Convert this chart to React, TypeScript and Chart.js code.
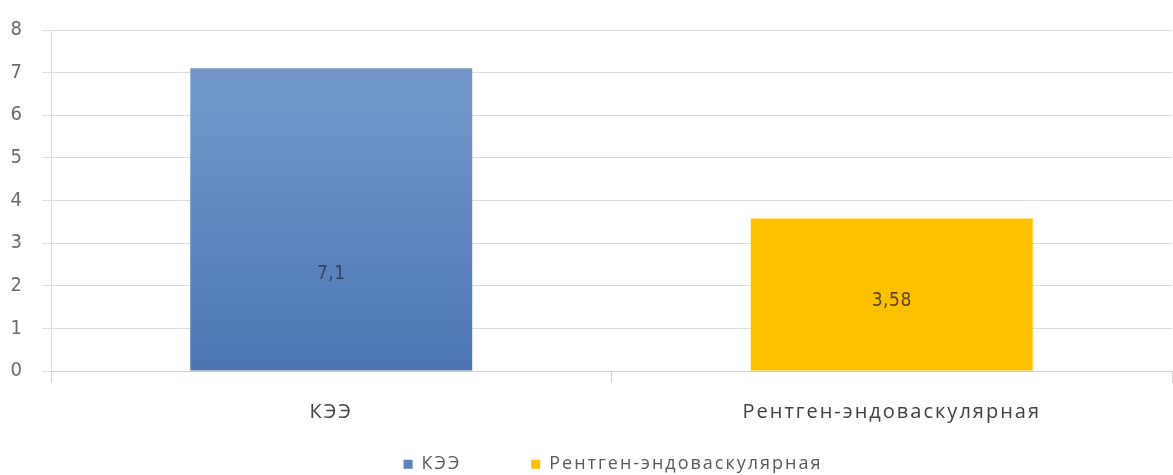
import React, { useEffect, useRef } from "react";
import { Chart, registerables } from "chart.js";

Chart.register(...registerables);

const categories = ["КЭЭ", "Рентген-эндоваскулярная"];
const seriesNames = ["КЭЭ", "Рентген-эндоваскулярная"];
const keeValues = [7.1, null];
const rentgenValues = [null, 3.58];
const valueLabels = ["7,1", "3,58"];
const yTicks = [0, 1, 2, 3, 4, 5, 6, 7, 8];

const labelFraction = [0.32, 0.46];
const LEGEND_PAD = 70;
const LEGEND_FONT = 18;

const layoutPlugin = {
  id: "layoutTweaks",
  afterInit(chart: any) {
    const lg = chart.legend;
    if (lg && !lg.__patched) {
      const orig = lg.fit;
      lg.fit = function () {
        orig.call(this);
        this.height = 34;
      };
      lg.__patched = true;
    }
  },
  afterLayout(chart: any) {
    const lg = chart.legend;
    if (!lg) return;
    lg.left += 0;
    lg.right += 2;
    lg.top = 466 - LEGEND_PAD - (LEGEND_FONT * 1.2) / 2;
  },
  beforeDraw(chart: any) {
    chart.ctx.save();
    (chart.ctx as any).letterSpacing = "2px";
  },
  afterDraw(chart: any) {
    chart.ctx.restore();
  },
};

const labelPlugin = {
  id: "barLabels",
  afterDatasetsDraw(chart: any) {
    const ctx = chart.ctx;
    ctx.save();
    (ctx as any).letterSpacing = "0.5px";
    ctx.font = "19px 'Liberation Sans Narrow', 'DejaVu Sans Condensed', sans-serif";
    ctx.textAlign = "center";
    ctx.textBaseline = "middle";
    chart.data.datasets.forEach((ds: any, di: number) => {
      const meta = chart.getDatasetMeta(di);
      meta.data.forEach((bar: any, i: number) => {
        const v = ds.data[i];
        if (v == null) return;
        const y0 = chart.scales.y.getPixelForValue(0);
        const y1 = chart.scales.y.getPixelForValue(v);
        const y = y0 - (y0 - y1) * labelFraction[di];
        ctx.fillStyle = di === 0 ? "#2f4466" : "#5a4614";
        ctx.fillText(valueLabels[di], bar.x, y);
      });
    });
    ctx.restore();
  },
};

export default function App() {
  const ref = useRef<HTMLCanvasElement | null>(null);
  useEffect(() => {
    document.body.style.margin = "0";
    const canvas = ref.current!;
    const blueGradient = (context: any) => {
      const chart = context.chart;
      const { chartArea, scales } = chart;
      if (!chartArea) return "#5b82bb";
      const top = scales.y.getPixelForValue(7.1);
      const bottom = scales.y.getPixelForValue(0);
      const g = chart.ctx.createLinearGradient(0, top, 0, bottom);
      g.addColorStop(0, "#7094c4");
      g.addColorStop(0.04, "#7399ca");
      g.addColorStop(1, "#4d75b2");
      return g;
    };
    const chart = new Chart(canvas, {
      type: "bar",
      data: {
        labels: categories,
        datasets: [
          {
            label: seriesNames[0],
            data: keeValues,
            backgroundColor: blueGradient,
            borderWidth: 0,
          },
          {
            label: seriesNames[1],
            data: rentgenValues,
            backgroundColor: "#ffc000",
            borderWidth: 0,
          },
        ],
      },
      options: {
        animation: false,
        responsive: false,
        maintainAspectRatio: false,
        datasets: {
          bar: { grouped: false, barPercentage: 1, categoryPercentage: 0.503 },
        },
        layout: { padding: { top: 28, right: 1, left: 0, bottom: 0 } },
        plugins: {
          tooltip: { enabled: false },
          legend: {
            position: "bottom",
            labels: {
              boxWidth: 9,
              boxHeight: 9,
              padding: LEGEND_PAD,
              color: "#595959",
              font: { family: "'Open Sans', sans-serif", size: LEGEND_FONT, weight: "500" },
              generateLabels: (ch: any) =>
                ch.data.datasets.map((ds: any, i: number) => ({
                  text: ds.label,
                  fillStyle: i === 0 ? "#5b82bb" : "#ffc000",
                  strokeStyle: "transparent",
                  lineWidth: 0,
                  fontColor: "#595959",
                  datasetIndex: i,
                  hidden: false,
                })),
            },
          },
        },
        scales: {
          x: {
            offset: true,
            grid: {
              offset: true,
              drawOnChartArea: false,
              drawTicks: true,
              tickLength: 12,
              color: "#d0d0d0",
            },
            border: { color: "#cfcfcf" },
            ticks: {
              color: "#404040",
              padding: 17,
              font: { family: "'Open Sans', sans-serif", size: 20, weight: "500" },
            },
            afterFit: (s: any) => {
              s.height = 70;
            },
          },
          y: {
            min: 0,
            max: 8,
            afterBuildTicks: (s: any) => {
              s.ticks = yTicks.map((v) => ({ value: v }));
            },
            grid: { color: "#dcdcdc", tickLength: 9 },
            border: { color: "#dcdcdc" },
            ticks: {
              color: "#6a6a6a",
              padding: 18,
              font: { family: "'Liberation Sans Narrow', 'DejaVu Sans Condensed', sans-serif", size: 20 },
            },
            afterFit: (s: any) => {
              s.width = 51;
            },
          },
        },
      },
      plugins: [layoutPlugin, labelPlugin],
    });
    return () => chart.destroy();
  }, []);
  return <canvas ref={ref} width={1173} height={475} style={{ display: "block" }} />;
}
